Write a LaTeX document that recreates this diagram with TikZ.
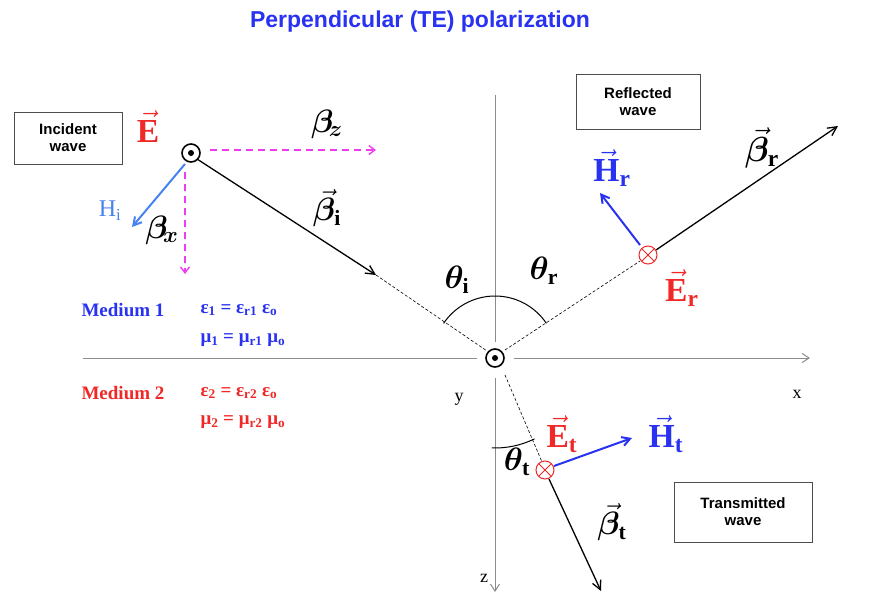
\documentclass[tikz,border=0pt]{standalone}
\usepackage{amsmath,amssymb,bm}
\usepackage{fontspec}
\setsansfont{Liberation Sans}
\setmainfont{Liberation Serif}
\usetikzlibrary{arrows.meta}
\definecolor{tblue}{RGB}{40,50,240}
\definecolor{hblue}{RGB}{70,130,240}
\definecolor{tred}{RGB}{240,40,40}
\definecolor{mag}{RGB}{240,60,240}
\definecolor{axg}{RGB}{140,140,140}
\tikzset{
  box/.style={draw=black!70,line width=0.8pt,font=\sffamily\bfseries\fontsize{15}{17}\selectfont,align=center,minimum width=#1,minimum height=52pt},
  ray/.style={line width=1.3pt,-{Straight Barb[length=9pt,width=9pt]}},
  hray/.style={line width=2pt,-{Straight Barb[length=8pt,width=9pt]}},
  mdash/.style={mag,dashed,line width=1.4pt,dash pattern=on 7pt off 5pt,-{Straight Barb[length=6pt,width=9pt]}},
  guide/.style={densely dashed,line width=0.6pt},
  axis/.style={axg,line width=1pt},
  lbl/.style={font=\fontsize{24}{26}\selectfont,inner sep=0pt,scale=1.3},
  clbl/.style={font=\bfseries\fontsize{24}{26}\selectfont,inner sep=0pt,scale=1.4},
  med/.style={font=\bfseries\fontsize{19}{21}\selectfont,anchor=west},
}
\begin{document}
\begin{tikzpicture}[x=1pt,y=-1pt]
\useasboundingbox (0,0) rectangle (881,611);
\node[font=\sffamily\bfseries\fontsize{23}{26}\selectfont,text=tblue] (title) at (420,22) {Perpendicular (TE) polarization};
% axes
\coordinate (O) at (495,358);
\draw[axis] (83,358) -- (477,358);
\draw[axis,-{Straight Barb[length=7pt,width=9pt]}] (514,358) -- (810,358);
\draw[axis] (495,95) -- (495,342);
\draw[axis,-{Straight Barb[length=7pt,width=9pt]}] (495,378) -- (495,592);
\draw[line width=1.6pt] (O) circle (9); \fill (O) circle (3);
\node[font=\fontsize{18}{20}\selectfont] (ylab) at (459,399) {y};
\node[font=\fontsize{18}{20}\selectfont] (xlab) at (797,394) {x};
\node[font=\fontsize{18}{20}\selectfont] (zlab) at (484,578) {z};
% boxes
\node[box=108pt] (inc) at (68,138) {Incident\\wave};
\node[box=124pt,minimum height=55pt] (refl) at (638,102) {Reflected\\wave};
\node[box=138pt,minimum height=60pt] (trans) at (743,512) {Transmitted\\wave};
% incident
\coordinate (I) at (191,153);
\draw[mdash] (210,150) -- (376,150);
\draw[mdash] (185,172) -- (185,274);
\draw[ray] (197,159) -- (376,275);
\draw[guide] (376,275) -- (487,351);
\draw[hray,hblue] (185,164) -- (132,227);
\draw[line width=1.6pt,fill=white] (I) circle (9); \fill (I) circle (3);
\node[clbl,text=tred] (Ei) at (148,127) {$\vec{\mathbf{E}}$};
\node[lbl] (bz) at (327,124) {$\bm{\beta}_{\!\bm{z}}$};
\node[lbl] (bx) at (162,230) {$\bm{\beta}_{\!\bm{x}}$};
\node[font=\fontsize{24}{26}\selectfont,text=hblue,inner sep=0pt] (Hi) at (110,211) {H\textsubscript{i}};
\node[lbl] (bi) at (327,208) {$\vec{\bm{\beta}}_{\mathbf{i}}$};
% angles
\draw[line width=1pt] (O) ++(-146:62) arc (-146:-34:62);
\node[lbl] (thi) at (457,280) {$\bm{\theta}_{\mathbf{i}}$};
\node[lbl] (thr) at (544,271) {$\bm{\theta}_{\mathbf{r}}$};
% reflected
\coordinate (R) at (648,255);
\draw[guide] (505,350) -- (640,261);
\draw[ray] (656,250) -- (838,126);
\draw[hray,tblue] (640,245) -- (600,193);
\draw[tred,line width=1pt,fill=white] (R) circle (9);
\draw[tred,line width=1pt] (R) ++(45:9) -- ++(-135:18) (R) ++(135:9) -- ++(-45:18);
\node[clbl,text=tblue] (Hr) at (612,168) {$\vec{\mathbf{H}}_{\mathbf{r}}$};
\node[clbl] (br) at (762,148) {$\vec{\bm{\beta}}_{\mathbf{r}}$};
\node[clbl,text=tred] (Er) at (682,288) {$\vec{\mathbf{E}}_{\mathbf{r}}$};
% transmitted
\coordinate (T) at (545,470);
\draw[guide] (505,375) -- (542,462);
\draw[ray] (549,479) -- (601,591);
\draw[hray,tblue] (554,466) -- (632,438);
\draw[line width=1pt] (O) ++(64:90) arc (64:92:90);
\draw[tred,line width=1pt,fill=white] (T) circle (9);
\draw[tred,line width=1pt] (T) ++(45:9) -- ++(-135:18) (T) ++(135:9) -- ++(-45:18);
\node[clbl,text=tred] (Et) at (562,434) {$\vec{\mathbf{E}}_{\mathbf{t}}$};
\node[clbl,text=tblue] (Ht) at (666,434) {$\vec{\mathbf{H}}_{\mathbf{t}}$};
\node[lbl] (tht) at (517,462) {$\bm{\theta}_{\mathbf{t}}$};
\node[lbl] (bt) at (612,522) {$\vec{\bm{\beta}}_{\mathbf{t}}$};
% media
\node[med,text=tblue] (m1) at (78,310) {Medium 1};
\node[med,text=tblue] (e1) at (197,310) {ε\textsubscript{1} = ε\textsubscript{r1} ε\textsubscript{o}};
\node[med,text=tblue] (u1) at (197,340) {μ\textsubscript{1} = μ\textsubscript{r1} μ\textsubscript{o}};
\node[med,text=tred] (m2) at (78,393) {Medium 2};
\node[med,text=tred] (e2) at (197,393) {ε\textsubscript{2} = ε\textsubscript{r2} ε\textsubscript{o}};
\node[med,text=tred] (u2) at (197,422) {μ\textsubscript{2} = μ\textsubscript{r2} μ\textsubscript{o}};
\end{tikzpicture}
\end{document}
